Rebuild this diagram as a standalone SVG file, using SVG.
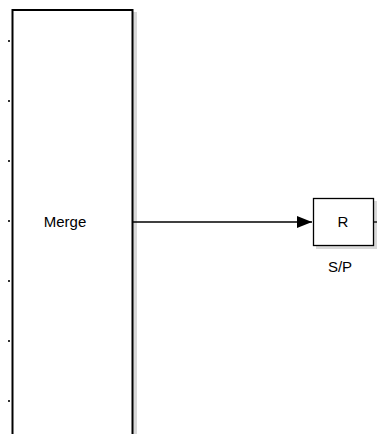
<svg xmlns="http://www.w3.org/2000/svg" width="377" height="434" viewBox="0 0 377 434">
<style>
.blk{fill:#fff;stroke:#000;stroke-width:2}
.shd{fill:#d8d8d8}
.lbl{font-family:"Liberation Sans",Arial,sans-serif;font-size:15px;fill:#000}
.port{stroke:#333;stroke-width:2}
.wire{stroke:#000;stroke-width:1.3;fill:none}
</style>
<defs>
<marker id="arr" markerWidth="16" markerHeight="12" refX="15" refY="6" orient="auto" markerUnits="userSpaceOnUse">
<path d="M0,0 L15,6 L0,12 Z" fill="#000"/>
</marker>
</defs>
<g id="merge">
<rect class="shd" x="15" y="12" width="122" height="424"/>
<rect class="blk" x="12.5" y="10" width="120" height="430"/>
<line class="port" x1="8" y1="41" x2="10" y2="41"/>
<line class="port" x1="8" y1="101" x2="10" y2="101"/>
<line class="port" x1="8" y1="161" x2="10" y2="161"/>
<line class="port" x1="8" y1="221" x2="10" y2="221"/>
<line class="port" x1="8" y1="281" x2="10" y2="281"/>
<line class="port" x1="8" y1="341" x2="10" y2="341"/>
<line class="port" x1="8" y1="401" x2="10" y2="401"/>
<text class="lbl" x="65" y="227" text-anchor="middle">Merge</text>
</g>
<g id="sp">
<rect class="shd" x="316" y="201" width="61" height="48"/>
<rect x="313.5" y="198.5" width="60" height="47" fill="#fff" stroke="#000" stroke-width="1.3"/>
<line x1="374" y1="222" x2="377" y2="222" stroke="#000" stroke-width="1.3"/>
<text class="lbl" x="343" y="227" text-anchor="middle">R</text>
<text class="lbl" x="340" y="272" text-anchor="middle">S/P</text>
</g>
<g id="connectors">
<line class="wire" x1="133" y1="222" x2="312" y2="222" marker-end="url(#arr)"/>
</g>
</svg>
